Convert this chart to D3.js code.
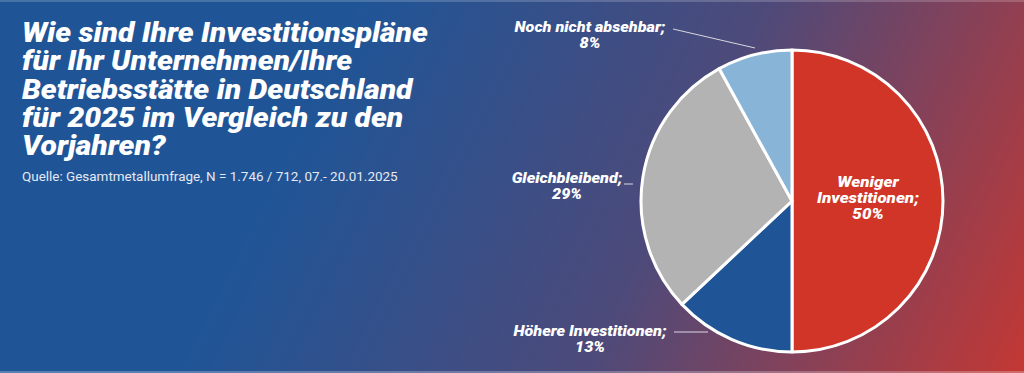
<!DOCTYPE html>
<html>
<head>
<meta charset="utf-8">
<script src="https://cdn.jsdelivr.net/npm/d3@7"></script>
<style>
  body { margin: 0; padding: 0; overflow: hidden; }
  svg { display: block; }
  text { font-family: Roboto, "Noto Sans", sans-serif; }
</style>
</head>
<body>
<svg id="chart" width="1024" height="373"></svg>
<script>
// data
const categories = ["Weniger Investitionen", "Höhere Investitionen", "Gleichbleibend", "Noch nicht absehbar"];
const values = [50, 13, 29, 8];
const sliceColors = ["#d03528", "#1f5597", "#b3b3b3", "#88b4d8"];
const titleLines = ["Wie sind Ihre Investitionspläne", "für Ihr Unternehmen/Ihre", "Betriebsstätte in Deutschland", "für 2025 im Vergleich zu den", "Vorjahren?"];
const sourceText = "Quelle: Gesamtmetallumfrage, N = 1.746 / 712, 07.- 20.01.2025";

const svg = d3.select('#chart');
const width = 1024, height = 373;

// stretch a text element horizontally around x0
function stretch(sel, x0, s) {
  sel.attr('transform', `translate(${x0},0) scale(${s},1) translate(${-x0},0)`);
}

// background gradient
const defs = svg.append('defs');
const grad = defs.append('linearGradient')
  .attr('id', 'bg')
  .attr('gradientUnits', 'userSpaceOnUse')
  .attr('x1', 330).attr('y1', 60)
  .attr('x2', 1060).attr('y2', 420);
grad.append('stop').attr('offset', 0).attr('stop-color', '#1f5597');
grad.append('stop').attr('offset', 0.45).attr('stop-color', '#4d4a7a');
grad.append('stop').attr('offset', 1).attr('stop-color', '#d3352a');

svg.append('rect').attr('width', width).attr('height', height).attr('fill', 'url(#bg)');
// thin light edges top/bottom
svg.append('rect').attr('x', 0).attr('y', 0).attr('width', width).attr('height', 2)
  .attr('fill', '#fff').attr('opacity', 0.18);
svg.append('rect').attr('x', 0).attr('y', height - 2).attr('width', width).attr('height', 2)
  .attr('fill', '#fff').attr('opacity', 0.25);

// title
const title = svg.append('text')
  .attr('x', 22).attr('y', 42)
  .attr('fill', '#fff')
  .style('font-size', '27px')
  .style('font-weight', 900)
  .style('font-style', 'italic');
title.selectAll('tspan').data(titleLines).enter().append('tspan')
  .attr('x', 22)
  .attr('dy', (d, i) => i === 0 ? 0 : 28.3)
  .text(d => d);
const firstLineW = title.select('tspan').node().getComputedTextLength();
stretch(title, 22, 406 / firstLineW);

const src = svg.append('text')
  .attr('x', 22).attr('y', 181)
  .attr('fill', '#e6e9f2')
  .style('font-size', '13px')
  .text(sourceText);
stretch(src, 22, 376 / src.node().getComputedTextLength());

// pie
const cx = 792, cy = 201, radius = 151;
const pie = d3.pie().sort(null).value(d => d);
const arc = d3.arc().innerRadius(0).outerRadius(radius);
const arcs = pie(values);

const g = svg.append('g').attr('transform', `translate(${cx},${cy})`);
g.selectAll('path').data(arcs).enter().append('path')
  .attr('d', arc)
  .attr('fill', (d, i) => sliceColors[i])
  .attr('stroke', '#fff')
  .attr('stroke-width', 3)
  .attr('stroke-linejoin', 'round');

// labels
const labelFont = (sel, size) => sel.attr('fill', '#fff')
  .style('font-size', size + 'px').style('font-weight', 900).style('font-style', 'italic')
  .attr('text-anchor', 'middle');

// inside label for the big slice
const inner = svg.append('text').attr('x', 868).attr('y', 187).call(labelFont, 15);
["Weniger", "Investitionen;", values[0] + "%"].forEach((t, i) => {
  inner.append('tspan').attr('x', 868).attr('dy', i === 0 ? 0 : 16).text(t);
});
stretch(inner, 868, 1.13);

// outside labels
const outside = [
  {i: 3, x: 590, y: 32, line: [[673, 29], [755, 48]]},
  {i: 2, x: 567, y: 183, line: [[624, 184], [633, 184]]},
  {i: 1, x: 590, y: 336, line: [[674, 332], [708, 332]]}
];
outside.forEach(o => {
  const t = svg.append('text').attr('x', o.x).attr('y', o.y).call(labelFont, 15);
  t.append('tspan').attr('x', o.x).text(categories[o.i] + ';');
  t.append('tspan').attr('x', o.x).attr('dy', 16).text(values[o.i] + '%');
  stretch(t, o.x, 1.08);
  svg.append('path')
    .attr('d', d3.line()(o.line))
    .attr('stroke', '#d8d8e0').attr('stroke-width', 1).attr('fill', 'none');
});
</script>
</body>
</html>
